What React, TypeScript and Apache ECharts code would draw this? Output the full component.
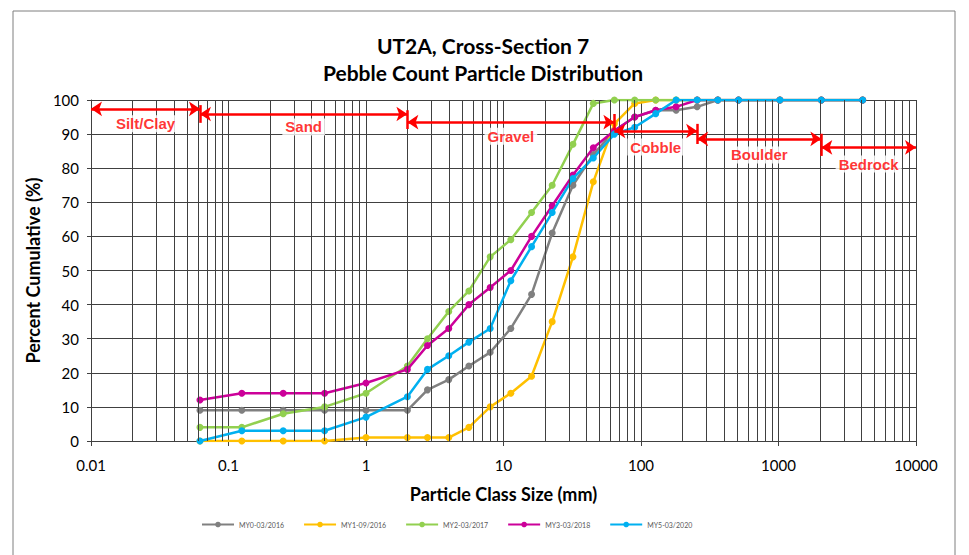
import React, { useEffect, useRef } from 'react';
import * as echarts from 'echarts';

// Particle class sizes (mm)
const sizes = [0.062, 0.125, 0.25, 0.5, 1, 2, 2.8, 4, 5.6, 8, 11.3, 16, 22.6, 32, 45, 64, 90, 128, 180, 256, 362, 512, 1024, 2048, 4096];

// Cumulative percent per survey
const my0 = [9, 9, 9, 9, 9, 9, 15, 18, 22, 26, 33, 43, 61, 75, 84, 91, 95, 97, 97, 98, 100, 100, 100, 100, 100];
const my1 = [0, 0, 0, 0, 1, 1, 1, 1, 4, 10, 14, 19, 35, 54, 76, 93, 99, 100, 100, 100, 100, 100, 100, 100, 100];
const my2 = [4, 4, 8, 10, 14, 22, 30, 38, 44, 54, 59, 67, 75, 87, 99, 100, 100, 100, 100, 100, 100, 100, 100, 100, 100];
const my3 = [12, 14, 14, 14, 17, 21, 28, 33, 40, 45, 50, 60, 69, 78, 86, 91, 95, 97, 98, 100, 100, 100, 100, 100, 100];
const my5 = [0, 3, 3, 3, 7, 13, 21, 25, 29, 33, 47, 57, 67, 77, 83, 90, 92, 96, 100, 100, 100, 100, 100, 100, 100];

const seriesNames = ['MY0-03/2016', 'MY1-09/2016', 'MY2-03/2017', 'MY3-03/2018', 'MY5-03/2020'];
const seriesValues = [my0, my1, my2, my3, my5];
const seriesColors = ['#808080', '#FFC000', '#92D050', '#CC0099', '#00B0F0'];

const xTickLabels = ['0.01', '0.1', '1', '10', '100', '1000', '10000'];

// Size-class zones
const zoneNames = ['Silt/Clay', 'Sand', 'Gravel', 'Cobble', 'Boulder', 'Bedrock'];
const zoneBounds = [0.01, 0.062, 2, 64, 256, 2048, 10000];
const zoneArrowY = [97.4, 95.9, 93.5, 90.9, 88.6, 86.1];
const zoneLabelY = [93.0, 92.1, 89.4, 86.2, 83.9, 81.2];
const barTop = [98.5, 97.0, 95.9, 93.0, 90.1];
const barBottom = [93.3, 91.5, 91.2, 87.1, 83.6];

const FONT = 'Lato, "Liberation Sans", sans-serif';

export default function App() {
  const ref = useRef<HTMLDivElement>(null);
  useEffect(() => {
    if (!ref.current) return;
    const chart = echarts.init(ref.current, undefined, { renderer: 'svg' });

    const minorGrid: number[] = [];
    for (let k = -2; k <= 3; k++) {
      for (let m = 2; m <= 9; m++) {
        minorGrid.push(parseFloat((m * Math.pow(10, k)).toPrecision(3)));
      }
    }

    const lineSeries = seriesNames.map((name, si) => ({
      name,
      type: 'line',
      data: sizes.map((s, i) => [s, seriesValues[si][i]]),
      symbol: 'circle',
      symbolSize: 7,
      showSymbol: true,
      color: seriesColors[si],
      lineStyle: { width: 2.5, color: seriesColors[si] },
      itemStyle: { color: seriesColors[si] },
      z: 3 + si * 0.01,
    }));

    const option: any = {
      animation: false,
      backgroundColor: '#ffffff',
      title: {
        text: 'UT2A, Cross-Section 7\nPebble Count Particle Distribution',
        left: 478,
        top: 27,
        textAlign: 'center',
        textStyle: { fontFamily: FONT, fontSize: 21, fontWeight: 'bold', color: '#000', lineHeight: 27 },
      },
      legend: {
        data: seriesNames,
        left: 196,
        top: 516,
        itemWidth: 32,
        itemHeight: 7,
        itemGap: 19,
        textStyle: { fontFamily: FONT, fontSize: 7, color: '#595959' },
      },
      grid: { left: 91, right: 53, top: 100, bottom: 114 },
      xAxis: {
        type: 'log',
        logBase: 10,
        min: 0.01,
        max: 10000,
        name: 'Particle Class Size (mm)',
        nameLocation: 'middle',
        nameGap: 44,
        nameTextStyle: { fontFamily: FONT, fontSize: 18, fontWeight: 'bold', color: '#000' },
        axisLine: { show: true, lineStyle: { color: '#404040', width: 1 } },
        axisTick: { show: true, length: 5, lineStyle: { color: '#404040' } },
        axisLabel: {
          margin: 16,
          fontFamily: FONT,
          fontSize: 15,
          color: '#000',
          formatter: (v: number) => xTickLabels[Math.round(Math.log10(v)) + 2] ?? '',
        },
        splitLine: { show: true, lineStyle: { color: '#404040', width: 1 } },
      },
      yAxis: {
        type: 'value',
        min: 0,
        max: 100,
        interval: 10,
        name: 'Percent Cumulative (%)',
        nameLocation: 'middle',
        nameGap: 42,
        nameTextStyle: { fontFamily: FONT, fontSize: 18, fontWeight: 'bold', color: '#000' },
        axisLine: { show: true, lineStyle: { color: '#404040', width: 1 } },
        axisTick: { show: true, length: 4, lineStyle: { color: '#404040' } },
        axisLabel: { margin: 12, fontFamily: FONT, fontSize: 15, color: '#000' },
        splitLine: { show: true, lineStyle: { color: '#404040', width: 1 } },
      },
      graphic: [
        {
          type: 'rect',
          silent: true,
          shape: { x: 13, y: 11, width: 942, height: 560 },
          style: { fill: 'none', stroke: '#7f7f7f', lineWidth: 1 },
        },
      ],
      series: [
        {
          name: '_minorgrid',
          type: 'line',
          data: [],
          silent: true,
          z: 1,
          markLine: {
            silent: true,
            symbol: ['none', 'none'],
            label: { show: false },
            lineStyle: { color: '#404040', width: 1, type: 'solid' },
            data: minorGrid.map((v) => ({ xAxis: v })),
          },
        },
        ...lineSeries,
        {
          name: '_arrows',
          type: 'line',
          data: [],
          silent: true,
          z: 10,
          markLine: {
            silent: true,
            symbol: ['arrow', 'arrow'],
            symbolSize: 11,
            label: { show: false },
            lineStyle: { color: '#FF0000', width: 2.5, type: 'solid' },
            data: zoneNames.map((_, i) => [
              { coord: [zoneBounds[i], zoneArrowY[i]] },
              { coord: [zoneBounds[i + 1], zoneArrowY[i]] },
            ]),
          },
        },
        {
          name: '_bars',
          type: 'line',
          data: [],
          silent: true,
          z: 10,
          markLine: {
            silent: true,
            symbol: ['none', 'none'],
            label: { show: false },
            lineStyle: { color: '#FF0000', width: 2.5, type: 'solid' },
            data: barTop.map((t, i) => [
              { coord: [zoneBounds[i + 1], t] },
              { coord: [zoneBounds[i + 1], barBottom[i]] },
            ]),
          },
        },
        {
          name: '_labels',
          type: 'scatter',
          silent: true,
          z: 11,
          symbolSize: 1,
          itemStyle: { color: 'rgba(0,0,0,0)' },
          data: zoneNames.map((n, i) => ({
            name: n,
            value: [Math.sqrt(zoneBounds[i] * zoneBounds[i + 1]), zoneLabelY[i]],
          })),
          label: {
            show: true,
            position: 'inside',
            formatter: '{b}',
            color: '#FF0000',
            fontFamily: '"Liberation Sans", Arial, sans-serif',
            fontWeight: 'bold',
            fontSize: 15,
            backgroundColor: '#ffffff',
            padding: [1, 3],
          },
        },
      ],
    };

    chart.setOption(option);
    return () => chart.dispose();
  }, []);

  return (
    <div
      ref={ref}
      style={{ position: 'fixed', left: 0, top: 0, width: 969, height: 555, background: '#fff' }}
    />
  );
}
